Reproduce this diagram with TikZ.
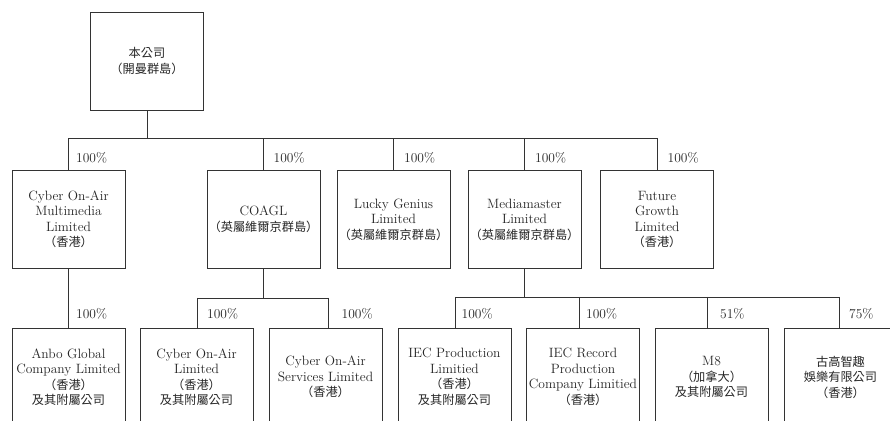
\documentclass[tikz,border=0pt]{standalone}
\usepackage{fontspec}
\newfontfamily\cjkfont{Noto Sans CJK TC}
\newcommand{\zh}[1]{{\cjkfont\fontsize{12.2}{15.5}\selectfont #1}}
\begin{document}
\begin{tikzpicture}[x=1pt,y=-1pt]
\tikzset{
  box/.style={draw=black!80, line width=0.7pt, minimum width=113pt, minimum height=98pt,
    inner sep=0pt, align=center, font=\fontsize{13.5}{15.5}\selectfont, text=black!85},
  pct/.style={anchor=base west, inner sep=0pt, font=\fontsize{13.5}{15.5}\selectfont, text=black!85},
  link/.style={draw=black!80, line width=0.7pt}
}
\useasboundingbox (0,0) rectangle (890,420);
\clip (0,0) rectangle (890,420);
\fill[white] (0,0) rectangle (890,420);

% top
\node[box] (top) at (147,61) {\zh{本公司}\\\zh{（開曼群島）}};

% level 1
\node[box] (a1) at (68.5,219.5) {Cyber On-Air\\Multimedia\\Limited\\\zh{（香港）}};
\node[box] (a2) at (263.5,219.5) {COAGL\\\zh{（英屬維爾京群島）}};
\node[box] (a3) at (393.5,219.5) {Lucky Genius\\Limited\\\zh{（英屬維爾京群島）}};
\node[box] (a4) at (524.5,219.5) {Mediamaster\\Limited\\\zh{（英屬維爾京群島）}};
\node[box] (a5) at (657,219.5) {Future\\Growth\\Limited\\\zh{（香港）}};

% level 2
\node[box] (b1) at (68.5,377) {Anbo Global\\Company Limited\\\zh{（香港）}\\\zh{及其附屬公司}};
\node[box] (b2) at (196.5,377) {Cyber On-Air\\Limited\\\zh{（香港）}\\\zh{及其附屬公司}};
\node[box] (b3) at (325.5,377) {Cyber On-Air\\Services Limited\\\zh{（香港）}};
\node[box] (b4) at (454.5,377) {IEC Production\\Limitied\\\zh{（香港）}\\\zh{及其附屬公司}};
\node[box] (b5) at (583,377) {IEC Record\\Production\\Company Limitied\\\zh{（香港）}};
\node[box] (b6) at (711.5,377) {M8\\\zh{（加拿大）}\\\zh{及其附屬公司}};
\node[box] (b7) at (840.5,377) {\zh{古高智趣}\\\zh{娛樂有限公司}\\\zh{（香港）}};

% connectors top -> level 1
\coordinate (j0) at ([yshift=-28pt]top.south);
\draw[link] (top.south) -- (j0);
\draw[link] (a1.north |- j0) -- (a5.north |- j0);
\foreach \n in {a1,a2,a3,a4,a5} { \draw[link] (\n.north |- j0) -- (\n.north); }

% Cyber On-Air Multimedia -> Anbo
\draw[link] (a1.south) -- (b1.north);

% COAGL -> b2, b3
\coordinate (j1) at ([yshift=-29pt]a2.south);
\draw[link] (a2.south) -- (j1);
\draw[link] ([xshift=0.5pt]b2.north |- j1) -- ([xshift=2.5pt]b3.north |- j1);
\draw[link] ([xshift=0.5pt]b2.north |- j1) -- ([xshift=0.5pt]b2.north);
\draw[link] ([xshift=2.5pt]b3.north |- j1) -- ([xshift=2.5pt]b3.north);

% Mediamaster -> b4..b7
\coordinate (j2) at ([yshift=-28pt]a4.south);
\draw[link] (a4.south) -- (j2);
\draw[link] ([xshift=0.5pt]b4.north |- j2) -- ([xshift=-1.5pt]b7.north |- j2);
\draw[link] ([xshift=0.5pt]b4.north |- j2) -- ([xshift=0.5pt]b4.north);
\draw[link] ([xshift=-4pt]b5.north |- j2) -- ([xshift=-4pt]b5.north);
\draw[link] ([xshift=-4.5pt]b6.north |- j2) -- ([xshift=-4.5pt]b6.north);
\draw[link] ([xshift=-1.5pt]b7.north |- j2) -- ([xshift=-1.5pt]b7.north);

% percentages
\node[pct] (p1) at ([xshift=7.5pt,yshift=8pt]a1.north) {100\%};
\node[pct] (p2) at ([xshift=10pt,yshift=8pt]a2.north) {100\%};
\node[pct] (p3) at ([xshift=10.5pt,yshift=8pt]a3.north) {100\%};
\node[pct] (p4) at ([xshift=10.5pt,yshift=8pt]a4.north) {100\%};
\node[pct] (p5) at ([xshift=10.5pt,yshift=8pt]a5.north) {100\%};
\node[pct] (q1) at ([xshift=7.5pt,yshift=9pt]b1.north) {100\%};
\node[pct] (q2) at ([xshift=10.5pt,yshift=9pt]b2.north) {100\%};
\node[pct] (q3) at ([xshift=16pt,yshift=9pt]b3.north) {100\%};
\node[pct] (q4) at ([xshift=7pt,yshift=9pt]b4.north) {100\%};
\node[pct] (q5) at ([xshift=3pt,yshift=9pt]b5.north) {100\%};
\node[pct] (q6) at ([xshift=8.5pt,yshift=9pt]b6.north) {51\%};
\node[pct] (q7) at ([xshift=8.5pt,yshift=9pt]b7.north) {75\%};
\end{tikzpicture}
\end{document}
